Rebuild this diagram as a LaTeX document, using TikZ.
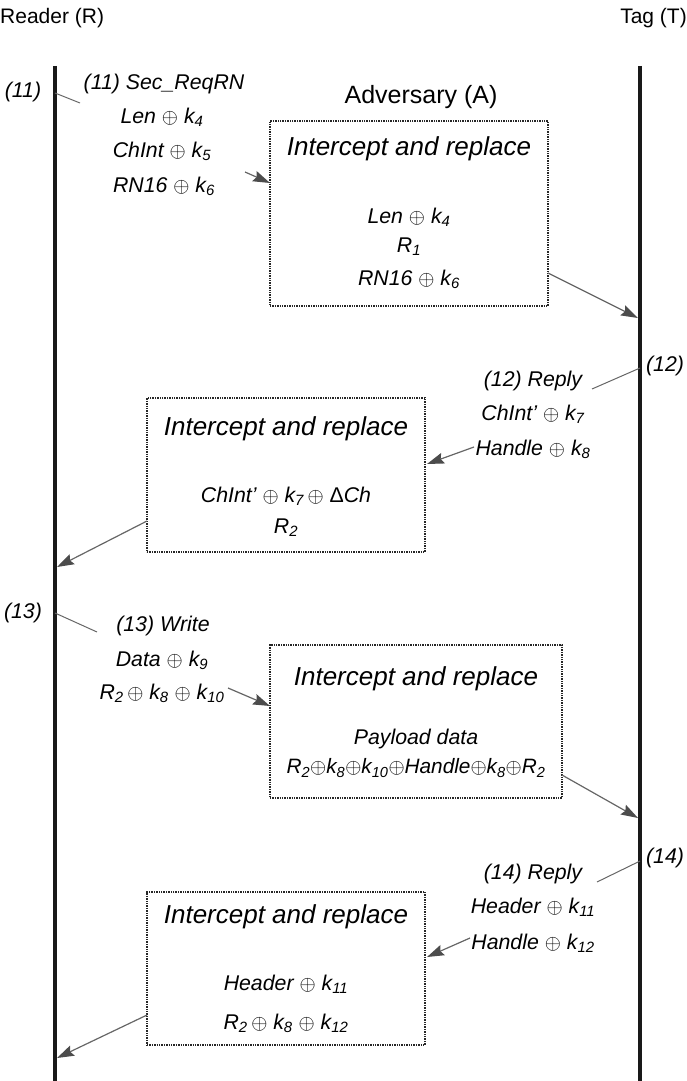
\documentclass[tikz,border=0pt]{standalone}
\usepackage{fontspec}
\setmainfont{Liberation Sans}
\usetikzlibrary{arrows.meta}
\newcommand\ks[1]{k\textsubscript{#1}}
\newcommand\Rs[1]{R\textsubscript{#1}}
\newcommand\xo{$\oplus$}
\begin{document}
\begin{tikzpicture}[x=1pt,y=-1pt,
  lifeline/.style={line width=4.5pt,black!90},
  head/.style={font=\fontsize{21}{24}\selectfont, inner sep=0pt},
  lbl/.style={font=\itshape\fontsize{21.3}{23}\selectfont, inner sep=0pt},
  ttl/.style={font=\itshape\fontsize{26}{28}\selectfont, inner sep=0pt},
  advbox/.style={draw=black!85, densely dotted, line width=1.4pt, inner sep=0pt},
  msg/.style={draw=black!60, line width=1.2pt, -{Stealth[length=17pt,width=11pt,inset=2.5pt,color=black!70]}},
  tick/.style={draw=black!60, line width=1pt}]
\useasboundingbox (0,0) rectangle (687,1081);
% headers
\node[head, anchor=west] (hR) at (0,18) {Reader (R)};
\node[head, anchor=east] (hT) at (687,18) {Tag (T)};
\node[head, font=\fontsize{25}{27}\selectfont] (hA) at (421,97) {Adversary (A)};
% lifelines
\coordinate (rtop) at (55,66); \coordinate (rbot) at (55,1081);
\coordinate (ttop) at (640,66); \coordinate (tbot) at (640,1081);
\draw[lifeline] (rtop) -- (rbot);
\draw[lifeline] (ttop) -- (tbot);
% boxes
\node[advbox, minimum width=278pt, minimum height=185pt] (b1) at (409,213.5) {};
\node[advbox, minimum width=278pt, minimum height=154pt] (b2) at (286,475) {};
\node[advbox, minimum width=292pt, minimum height=153pt] (b3) at (416,721.5) {};
\node[advbox, minimum width=278pt, minimum height=153pt] (b4) at (286,968.5) {};
% ---- step 11
\node[lbl] (n11) at (23,92) {(11)};
\coordinate (t11a) at (55,93); \coordinate (t11b) at (80,103);
\draw[tick] (t11a) -- (t11b);
\node[lbl] (m11a) at (164,84) {(11) Sec\_ReqRN};
\node[lbl] (m11b) at (162,117) {Len \xo\ \ks{4}};
\node[lbl] (m11c) at (162,151) {ChInt \xo\ \ks{5}};
\node[lbl] (m11d) at (164,186) {RN16 \xo\ \ks{6}};
\coordinate (a11s) at (245,172); \coordinate (a11e) at (270,183);
\draw[msg] (a11s) -- (a11e);
\node[ttl] (b1t) at (409,149) {Intercept and replace};
\node[lbl] (b1a) at (409,217) {Len \xo\ \ks{4}};
\node[lbl] (b1b) at (409,247) {\Rs{1}};
\node[lbl] (b1c) at (409,279) {RN16 \xo\ \ks{6}};
\coordinate (a11f) at (548,273); \coordinate (a11g) at (638,318);
\draw[msg] (a11f) -- (a11g);
% ---- step 12
\node[lbl] (n12) at (665,366) {(12)};
\coordinate (t12a) at (640,368); \coordinate (t12b) at (592,389);
\draw[tick] (t12a) -- (t12b);
\node[lbl] (m12a) at (533,381) {(12) Reply};
\node[lbl] (m12b) at (533,414) {ChInt' \xo\ \ks{7}};
\node[lbl] (m12c) at (533,449) {Handle \xo\ \ks{8}};
\coordinate (a12s) at (474,447); \coordinate (a12e) at (427,464);
\draw[msg] (a12s) -- (a12e);
\node[ttl] (b2t) at (286,429) {Intercept and replace};
\node[lbl] (b2a) at (286,496) {ChInt' \xo\ \ks{7}\,\xo\ {\upshape Δ}Ch};
\node[lbl] (b2b) at (286,528) {\Rs{2}};
\coordinate (a12f) at (147,521); \coordinate (a12g) at (57,567);
\draw[msg] (a12f) -- (a12g);
% ---- step 13
\node[lbl] (n13) at (23,613) {(13)};
\coordinate (t13a) at (55,613); \coordinate (t13b) at (97,632);
\draw[tick] (t13a) -- (t13b);
\node[lbl] (m13a) at (163,626) {(13) Write};
\node[lbl] (m13b) at (162,660) {Data \xo\ \ks{9}};
\node[lbl] (m13c) at (162,693) {\Rs{2}\,\xo\ \ks{8} \xo\ \ks{10}};
\coordinate (a13s) at (228,688); \coordinate (a13e) at (270,706);
\draw[msg] (a13s) -- (a13e);
\node[ttl] (b3t) at (416,679) {Intercept and replace};
\node[lbl] (b3a) at (416,739) {Payload data};
\node[lbl, font=\itshape\fontsize{20.8}{23}\selectfont] (b3b) at (416,768) {\Rs{2}\xo\ks{8}\xo\ks{10}\xo Handle\xo\ks{8}\xo\Rs{2}};
\coordinate (a13f) at (562,775); \coordinate (a13g) at (638,818);
\draw[msg] (a13f) -- (a13g);
% ---- step 14
\node[lbl] (n14) at (665,858) {(14)};
\coordinate (t14a) at (640,861); \coordinate (t14b) at (597,882);
\draw[tick] (t14a) -- (t14b);
\node[lbl] (m14a) at (533,874) {(14) Reply};
\node[lbl] (m14b) at (533,907) {Header \xo\ \ks{11}};
\node[lbl] (m14c) at (533,943) {Handle \xo\ \ks{12}};
\coordinate (a14s) at (470,938); \coordinate (a14e) at (427,957);
\draw[msg] (a14s) -- (a14e);
\node[ttl] (b4t) at (286,917) {Intercept and replace};
\node[lbl] (b4a) at (286,984) {Header \xo\ \ks{11}};
\node[lbl] (b4b) at (286,1023) {\Rs{2}\,\xo\ \ks{8} \xo\ \ks{12}};
\coordinate (a14f) at (147,1015); \coordinate (a14g) at (57,1058);
\draw[msg] (a14f) -- (a14g);
\end{tikzpicture}
\end{document}
